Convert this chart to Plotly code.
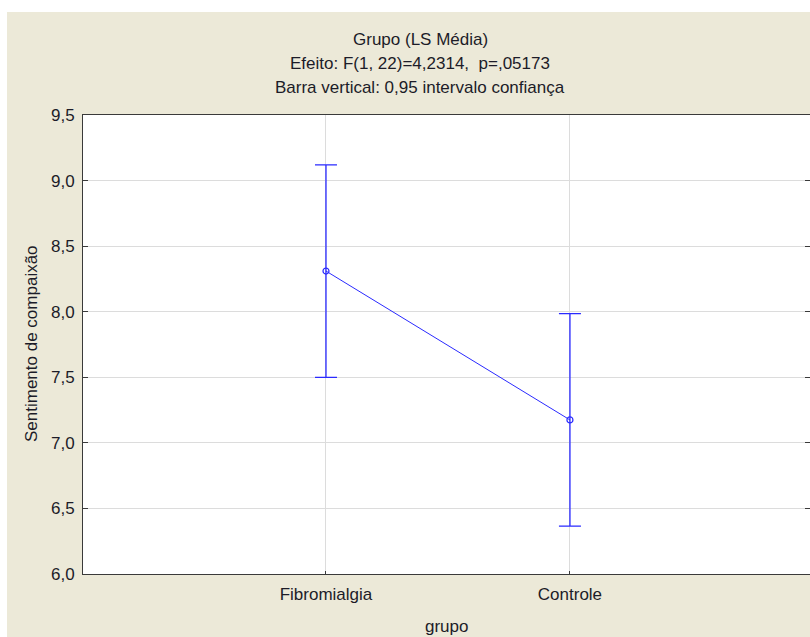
import plotly.graph_objects as go

categories = ["Fibromialgia", "Controle"]
means = [8.31, 7.175]
ci_half = [0.81, 0.81]
y_tickvals = [6.0, 6.5, 7.0, 7.5, 8.0, 8.5, 9.0, 9.5]
y_ticktext = ["6,0", "6,5", "7,0", "7,5", "8,0", "8,5", "9,0", "9,5"]
title_lines = ["Grupo (LS Média)", "Efeito: F(1, 22)=4,2314,  p=,05173",
               "Barra vertical: 0,95 intervalo confiança"]

W, H = 810, 637
L, R, T, B = 83, 0, 115, 63
BEIGE = "#ECE9D8"
FONT = "Liberation Sans, Arial, sans-serif"
TXT = "#1c1c28"
FS = 17

fig = go.Figure()
fig.add_trace(go.Scatter(
    x=categories, y=means, mode="lines+markers",
    line=dict(color="#2a2aff", width=1),
    marker=dict(symbol="circle-open", size=6, color="#2a2aff", line=dict(width=1.2)),
    error_y=dict(type="data", array=ci_half, visible=True, color="#2a2aff",
                 thickness=1.3, width=11),
    showlegend=False,
))

# pixel helpers for paper coords
pw, ph = W - L - R, H - T - B
def px(x):
    return (x - L) / pw
def py(y):
    return (H - B - y) / ph

shapes = [
    dict(type="rect", xref="paper", yref="paper", x0=px(0), x1=px(W + 5), y0=py(-5), y1=py(12),
         fillcolor="white", line=dict(width=0), layer="below"),
    dict(type="rect", xref="paper", yref="paper", x0=px(-5), x1=px(7), y0=py(H + 5), y1=py(-5),
         fillcolor="white", line=dict(width=0), layer="below"),
]

annotations = []
for i, t in enumerate(title_lines):
    annotations.append(dict(text=t, xref="paper", yref="paper", x=px(420), y=py(39 + 24 * i),
                            xanchor="center", yanchor="middle", showarrow=False,
                            font=dict(family=FONT, size=FS, color=TXT)))
annotations.append(dict(text="Sentimento de compaixão", textangle=-90, xref="paper", yref="paper",
                        x=px(31), y=py(344), xanchor="center", yanchor="middle", showarrow=False,
                        font=dict(family=FONT, size=FS, color=TXT)))
annotations.append(dict(text="grupo", xref="paper", yref="paper", x=px(446), y=py(626),
                        xanchor="center", yanchor="middle", showarrow=False,
                        font=dict(family=FONT, size=FS, color=TXT)))

fig.update_layout(
    width=W, height=H,
    margin=dict(l=L, r=R, t=T, b=B),
    paper_bgcolor=BEIGE, plot_bgcolor="white",
    font=dict(family=FONT, size=FS, color=TXT),
    shapes=shapes, annotations=annotations,
    xaxis=dict(type="category", range=[-0.996, 1.984], showgrid=True, gridcolor="#dcdcdc",
               gridwidth=1, showline=True, linecolor="#3a3a3a", linewidth=1, mirror=True,
               ticks="inside", ticklen=3, tickcolor="#3a3a3a", zeroline=False,
               tickfont=dict(family=FONT, size=FS, color=TXT), ticklabelstandoff=5),
    yaxis=dict(range=[6.0, 9.5], tickvals=y_tickvals, ticktext=y_ticktext, showgrid=True,
               gridcolor="#dcdcdc", gridwidth=1, showline=True, linecolor="#3a3a3a",
               linewidth=1, mirror="ticks", ticks="inside", ticklen=5, tickcolor="#3a3a3a",
               zeroline=False, tickfont=dict(family=FONT, size=FS, color=TXT),
               ticklabelstandoff=4),
)

fig.write_html("out.html")
